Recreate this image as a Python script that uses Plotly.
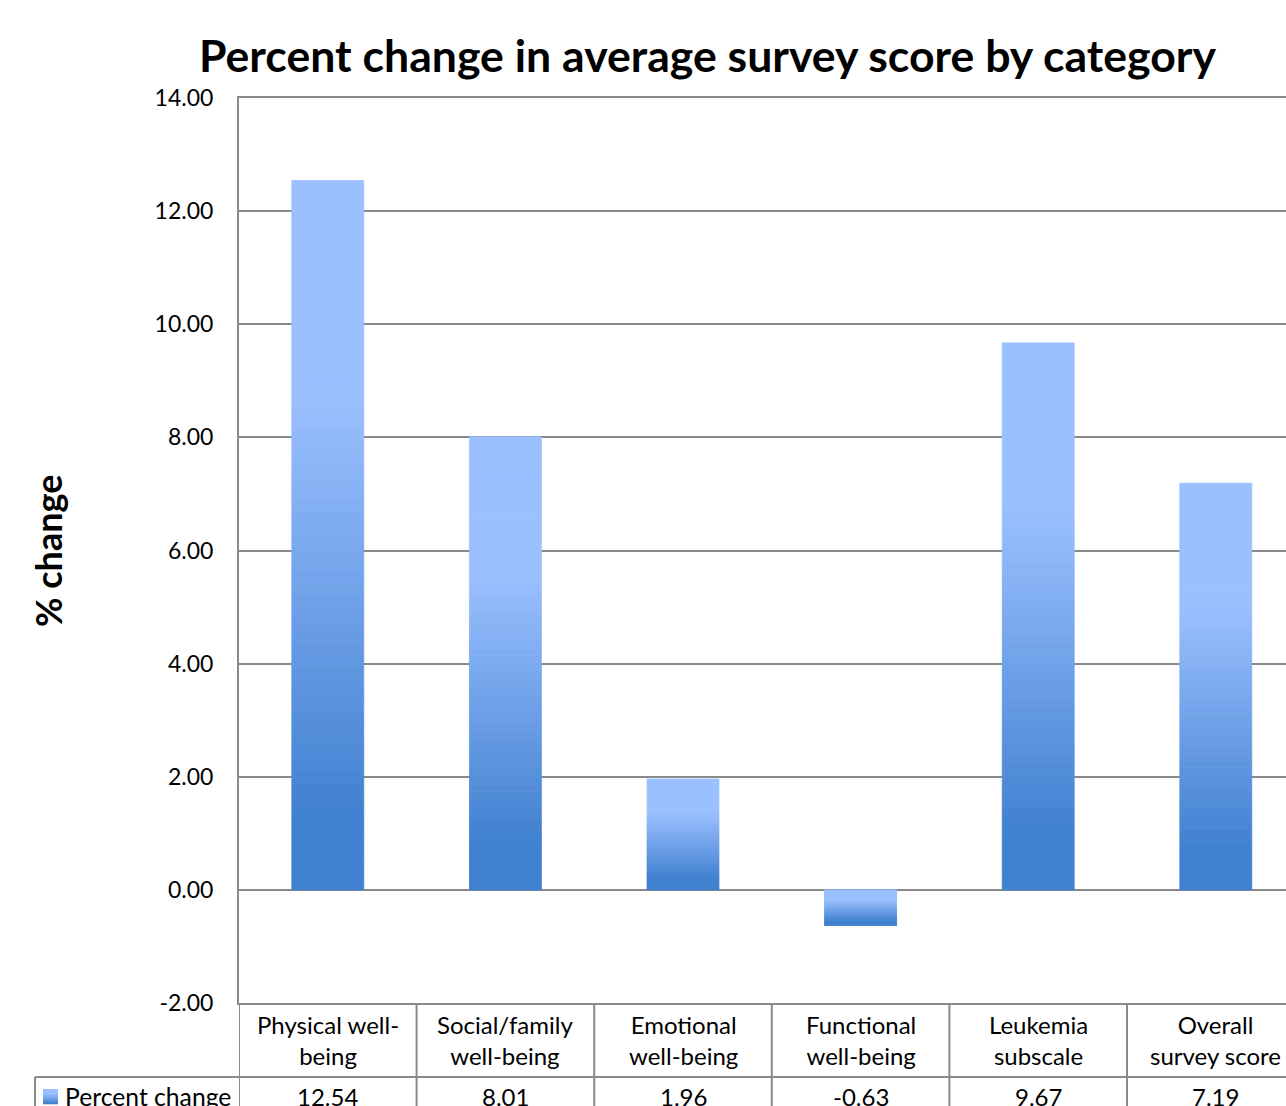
import plotly.graph_objects as go

# ---- data ----
categories = ["Physical well-<br>being", "Social/family<br>well-being", "Emotional<br>well-being",
              "Functional<br>well-being", "Leukemia<br>subscale", "Overall<br>survey score"]
values = [12.54, 8.01, 1.96, -0.63, 9.67, 7.19]
series_name = "Percent change"
y_ticks = [-2, 0, 2, 4, 6, 8, 10, 12, 14]

# ---- layout constants (pixels) ----
W, H = 1286, 1106
L, T, B_PX = 239, 98, 1003
plot_w = W - L
plot_h = B_PX - T
cat_px = 177.6
x_hi = 5.5 - (L + 6 * cat_px - W) / cat_px  # last column runs past the right edge

def px_x(p):
    return (p - L) / plot_w

def px_y(p):
    return (B_PX - p) / plot_h

LIGHT = (155, 192, 255)
DARK = (64, 128, 208)

def grad(t):
    # t = 0 at top of bar, 1 at bottom
    if t <= 0.3:
        f = 0.0
    elif t >= 0.9:
        f = 1.0
    else:
        f = (t - 0.3) / 0.6
    c = [round(LIGHT[i] + (DARK[i] - LIGHT[i]) * f) for i in range(3)]
    return f"rgb({c[0]},{c[1]},{c[2]})"

N = 60
xs = list(range(len(values)))
fig = go.Figure()
for k in range(N):
    seg = [v / N for v in values]
    colors = []
    for v in values:
        # segment k counted outward from zero
        if v >= 0:
            t = 1 - (k + 0.5) / N
        else:
            t = (k + 0.5) / N
        colors.append(grad(t))
    fig.add_trace(go.Bar(x=xs, y=seg, marker=dict(color=colors, line=dict(width=0.8, color=colors)),
                         hoverinfo="skip", showlegend=False, name=series_name))

GRID = "#8a8a8a"
FONT = "Lato"

fig.update_layout(
    width=W, height=H,
    margin=dict(l=L, r=0, t=T, b=H - B_PX),
    barmode="relative",
    bargap=0.595,
    paper_bgcolor="white", plot_bgcolor="white",
    font=dict(family=FONT, color="black"),
    xaxis=dict(range=[-0.5, x_hi], showticklabels=False, showgrid=False, zeroline=False,
               showline=True, mirror=True, linecolor=GRID, linewidth=2, ticks=""),
    yaxis=dict(range=[-2, 14], tickvals=y_ticks, ticktext=[f"{v:.2f}" for v in y_ticks],
               showgrid=True, gridcolor=GRID, gridwidth=1.5, zeroline=False,
               showline=True, linecolor=GRID, linewidth=2, ticks="",
               ticklabelstandoff=19, tickfont=dict(size=23, family=FONT, color="black")),
)

shapes = []
# table vertical lines
for i in range(len(values)):
    shapes.append(dict(type="line", xref="x", yref="paper", x0=i - 0.5, x1=i - 0.5,
                       y0=0, y1=px_y(H + 10), line=dict(color=GRID, width=2)))
# horizontal line between label row and value row
shapes.append(dict(type="line", xref="paper", yref="paper", x0=px_x(35), x1=1,
                   y0=px_y(1077), y1=px_y(1077), line=dict(color=GRID, width=2)))
shapes.append(dict(type="line", xref="paper", yref="paper", x0=px_x(35), x1=px_x(35),
                   y0=px_y(1077), y1=px_y(H + 10), line=dict(color=GRID, width=2)))
# legend key (gradient square)
nk = 8
for j in range(nk):
    y0 = 1089 + j * 15 / nk
    shapes.append(dict(type="rect", xref="paper", yref="paper", x0=px_x(43), x1=px_x(58),
                       y0=px_y(y0), y1=px_y(y0 + 15 / nk + 0.3), line=dict(width=0),
                       fillcolor=grad((j + 0.5) / nk)))
fig.update_layout(shapes=shapes)

ann = []
ann.append(dict(text="<b>Percent change in average survey score by category</b>", xref="paper", yref="paper",
                x=px_x(707), y=px_y(54), xanchor="center", yanchor="middle", showarrow=False,
                font=dict(size=44.6, family=FONT, color="black")))
ann.append(dict(text="<b>% change</b>", xref="paper", yref="paper", x=px_x(48), y=px_y(551),
                textangle=-90, xanchor="center", yanchor="middle", showarrow=False,
                font=dict(size=36, family=FONT, color="black")))
for i, (c, v) in enumerate(zip(categories, values)):
    ann.append(dict(text=c, xref="x", yref="paper", x=i, y=px_y(1040), xanchor="center", yanchor="middle",
                    showarrow=False, font=dict(size=24, family=FONT, color="black")))
    ann.append(dict(text=f"{v:.2f}", xref="x", yref="paper", x=i, y=px_y(1096), xanchor="center",
                    yanchor="middle", showarrow=False, font=dict(size=24, family=FONT, color="black")))
ann.append(dict(text=series_name, xref="paper", yref="paper", x=px_x(63), y=px_y(1096), xanchor="left",
                yanchor="middle", showarrow=False, font=dict(size=24.7, family=FONT, color="black")))
fig.update_layout(annotations=ann)

fig.write_html("out.html")
